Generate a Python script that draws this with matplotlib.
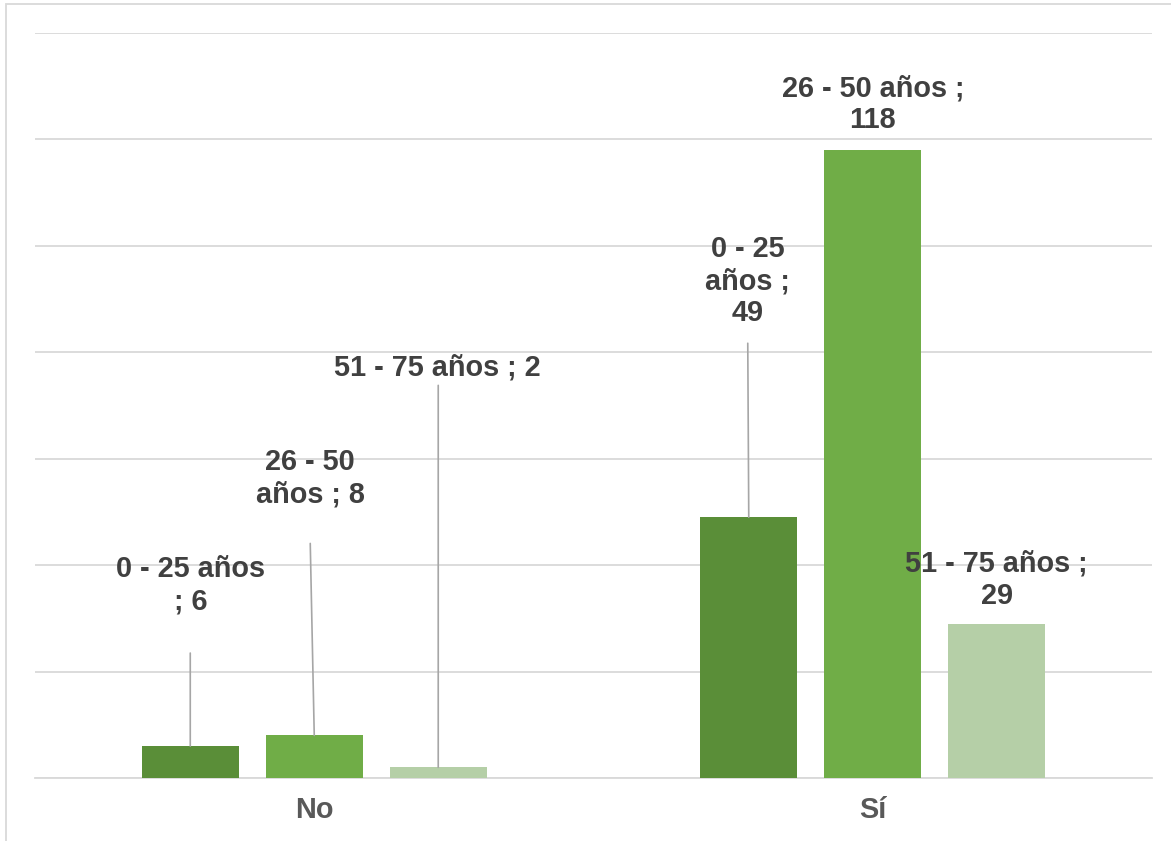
import matplotlib
matplotlib.use("Agg")
import matplotlib.pyplot as plt
from matplotlib.patches import Rectangle

plt.rcParams['font.family'] = ['Liberation Sans', 'DejaVu Sans']

# Data
categories = ["No", "Sí"]
series_names = ["0 - 25 años", "26 - 50 años", "51 - 75 años"]
values = {
    "0 - 25 años": [6, 49],
    "26 - 50 años": [8, 118],
    "51 - 75 años": [2, 29],
}
colors = ["#5A8E38", "#70AD47", "#B5CFA7"]

# Label texts (with their manual line breaks)
label_texts = [
    ["0 - 25 años\n; {}", "0 - 25\naños ;\n{}"],
    ["26 - 50\naños ; {}", "26 - 50 años ;\n{}"],
    ["51 - 75 años ; {}", "51 - 75 años ;\n{}"],
]
# Label offsets from bar top (pixels) and leader-line top offsets (None = no leader)
label_offsets = [
    [(0, 161), (-1, 236)],
    [(-4, 257), (0, 46)],
    [(-1, 400), (0, 44)],
]
leader_offsets = [
    [(0, 93), (-1, 174)],
    [(-4, 192), None],
    [(0, 382), None],
]

W, H = 1171, 841
fig = plt.figure(figsize=(W / 100, H / 100), dpi=100)
fig.patch.set_facecolor("white")

# Chart frame
fig.patches.append(Rectangle((6 / W, -0.1), 1.2, 1.1 - 4 / H, transform=fig.transFigure,
                             fill=False, edgecolor="#D9D9D9", linewidth=1.3, zorder=0))

ax = fig.add_axes([35 / W, (H - 778) / H, (1152 - 35) / W, (778 - 33) / H])
ax.set_xlim(-0.5, 1.5)
ax.set_ylim(0, 140)

bar_w = 0.174
step = 0.222
x = list(range(len(categories)))
fs = 20.8

for i, name in enumerate(series_names):
    xs = [xi + (i - 1) * step for xi in x]
    ax.bar(xs, values[name], width=bar_w, color=colors[i], zorder=3)
    for j, (xb, v) in enumerate(zip(xs, values[name])):
        txt = label_texts[i][j].format(v)
        dx, dy = label_offsets[i][j]
        ax.annotate(txt, xy=(xb, v), xytext=(dx, dy), textcoords="offset pixels",
                    ha="center", va="center", fontsize=fs, fontweight="bold",
                    color="#404040", linespacing=1.18, zorder=5)
        lo = leader_offsets[i][j]
        if lo is not None:
            ax.annotate("", xy=(xb, v), xytext=lo, textcoords="offset pixels",
                        arrowprops=dict(arrowstyle="-", color="#A6A6A6", lw=1.2,
                                        shrinkA=0, shrinkB=0), zorder=4)

ax.set_yticks(range(0, 141, 20))
ax.yaxis.grid(True, color="#D9D9D9", linewidth=1.3, zorder=0)
ax.set_axisbelow(True)
ax.tick_params(axis="y", left=False, labelleft=False)
ax.set_xticks(x)
ax.set_xticklabels(categories, fontsize=fs, fontweight="bold", color="#595959")
ax.tick_params(axis="x", length=0, pad=13)
for s in ["top", "right", "left"]:
    ax.spines[s].set_visible(False)
ax.spines["bottom"].set_color("#D9D9D9")
ax.spines["bottom"].set_linewidth(1.3)
ax.patch.set_alpha(0)

fig.savefig("out.png", dpi=100)
